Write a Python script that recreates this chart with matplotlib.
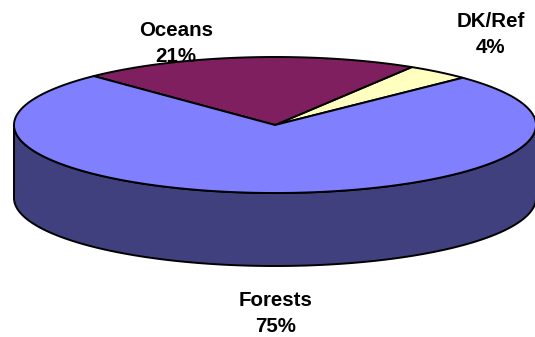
import numpy as np
import matplotlib
matplotlib.use("Agg")
import matplotlib.pyplot as plt
from matplotlib.patches import Polygon

labels = ["DK/Ref", "Oceans", "Forests"]
values = [4, 21, 75]
top_colors = ["#FFFFC0", "#7F1F5F", "#8080FF"]
side_colors = ["#7F7F60", "#40102F", "#40407F"]
start_angle = 44.0

W, H = 535, 337
fig = plt.figure(figsize=(W / 100, H / 100), dpi=100)
ax = fig.add_axes([0, 0, 1, 1])
ax.set_xlim(0, W)
ax.set_ylim(H, 0)
ax.axis("off")

cx, cy, rx, ry, depth = 275, 125, 261, 68, 73

def pt(t, dy=0.0):
    t = np.radians(t)
    return cx + rx * np.cos(t), cy - ry * np.sin(t) + dy

total = float(sum(values))
angles = [start_angle]
for v in values:
    angles.append(angles[-1] + 360.0 * v / total)

# side faces (front half: 180..360 deg)
for i in range(len(values)):
    a0, a1 = angles[i], angles[i + 1]
    segs = []
    for k in (0, 360):
        lo = max(a0, 180 + k)
        hi = min(a1, 360 + k)
        if hi > lo:
            segs.append((lo, hi))
    for lo, hi in segs:
        ts = np.linspace(lo, hi, 200)
        top = [pt(t) for t in ts]
        bot = [pt(t, depth) for t in ts[::-1]]
        ax.add_patch(Polygon(top + bot, closed=True, facecolor=side_colors[i],
                             edgecolor="black", linewidth=1.4, joinstyle="round"))

# top faces
for i in range(len(values)):
    a0, a1 = angles[i], angles[i + 1]
    ts = np.linspace(a0, a1, 300)
    poly = [(cx, cy)] + [pt(t) for t in ts]
    ax.add_patch(Polygon(poly, closed=True, facecolor=top_colors[i],
                         edgecolor="black", linewidth=1.4, joinstyle="round"))

font = dict(family=["Liberation Sans", "DejaVu Sans"], fontsize=14.8,
            fontweight="bold", ha="center", va="center", linespacing=1.5)
label_pos = {"DK/Ref": (491, 34.5), "Oceans": (176, 43.5), "Forests": (276, 313.5)}
for lab, v in zip(labels, values):
    x, y = label_pos[lab]
    ax.text(x, y, f"{lab}\n{v}%", zorder=5, **font)

fig.savefig("out.png", dpi=100)
